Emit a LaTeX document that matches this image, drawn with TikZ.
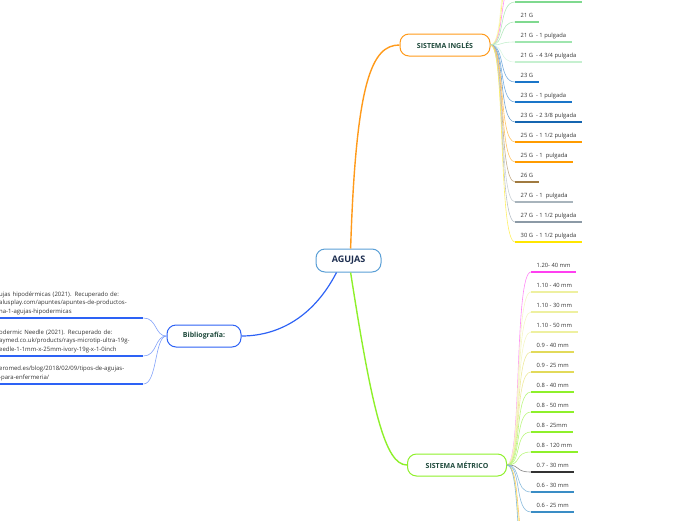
\documentclass[tikz,border=0pt]{standalone}
\usepackage{fontspec}
\setmainfont{Open Sans}
\usetikzlibrary{positioning}
\definecolor{navy}{HTML}{1C2D4F}
\definecolor{ink}{HTML}{1F4A3C}
\definecolor{txt}{HTML}{333333}
\definecolor{skyb}{HTML}{5A9FD6}
\definecolor{orng}{HTML}{FF9A1A}
\definecolor{bibb}{HTML}{2D62F5}
\definecolor{lime}{HTML}{8EF02A}
\definecolor{grnA}{HTML}{7FD98F}
\definecolor{grnB}{HTML}{9EE5AE}
\definecolor{grnC}{HTML}{C6F0D0}
\definecolor{bluA}{HTML}{1A75C8}
\definecolor{bluB}{HTML}{1565B0}
\definecolor{ornA}{HTML}{FF9C00}
\definecolor{brwn}{HTML}{A07A40}
\definecolor{gryA}{HTML}{A8B4BC}
\definecolor{gryB}{HTML}{8C9AA6}
\definecolor{yelA}{HTML}{FFE600}
\definecolor{mgnt}{HTML}{FF40F0}
\definecolor{paly}{HTML}{EEF0A0}
\definecolor{olvy}{HTML}{E2DA5A}
\definecolor{drk}{HTML}{333333}
\definecolor{bluC}{HTML}{3A8DC5}

\begin{document}
\begin{tikzpicture}[x=1pt, y=-1pt,
  topic/.style={rounded corners=9pt, draw, line width=1pt, fill=white, text=ink, font=\fontsize{7}{8}\selectfont\bfseries, minimum height=22pt, inner xsep=0pt},
  leaf/.style={anchor=south west, text=txt, font=\fontsize{5.8}{6}\selectfont, inner xsep=5.5pt, inner ysep=3pt, text height=4pt, text depth=1.2pt},
  ref/.style={anchor=south west, text=txt, font=\fontsize{6}{8.5}\selectfont, align=left, text width=144pt, inner xsep=0pt, inner ysep=3pt},
  ul/.style={line width=1.3pt, draw=#1},
  br/.style={line width=0.6pt, draw=#1!60}]

\useasboundingbox (0,0) rectangle (696,520);
\clip (0,0) rectangle (696,520);

% main topics
\node[topic, draw=skyb, text=navy, minimum width=65pt, minimum height=23pt, font=\fontsize{9}{10}\selectfont\bfseries] (agu) at (348.5,260.5) {AGUJAS};
\node[topic, draw=orng, minimum width=90pt] (ing) at (445,45) {SISTEMA INGLÉS};
\node[topic, draw=bibb, minimum width=74pt] (bib) at (204,336) {Bibliografía:};
\node[topic, draw=lime, minimum width=99pt] (met) at (457,465) {SISTEMA MÉTRICO};

\draw[line width=1.4pt, orng] (agu.80) .. controls (356,80) and (372,45) .. (ing.west);
\draw[line width=1.2pt, bibb] (agu.225) .. controls (312,320) and (275,336) .. (bib.east);
\draw[line width=1.4pt, lime] (agu.-80) .. controls (372,410) and (385,465) .. (met.west);

% sistema ingles
\coordinate (i0) at (515,2);
\coordinate (ia) at (515,-18);
\coordinate (ib) at (515,-38);
\coordinate (ic) at (515,-58);
\node[leaf] (i1) at (515,22) {21 G};
\node[leaf] (i2) at (515,42) {21 G~ - 1 pulgada};
\node[leaf] (i3) at (515,62) {21 G~ - 4 3/4 pulgada};
\node[leaf] (i4) at (515,82) {23 G};
\node[leaf] (i5) at (515,102) {23 G~ - 1 pulgada};
\node[leaf] (i6) at (515,122) {23 G~ - 2 3/8 pulgada};
\node[leaf] (i7) at (515,142) {25 G~ - 1 1/2 pulgada};
\node[leaf] (i8) at (515,162) {25 G~ - 1~ pulgada};
\node[leaf] (i9) at (515,182) {26 G};
\node[leaf] (i10) at (515,202) {27 G~ - 1~ pulgada};
\node[leaf] (i11) at (515,222) {27 G~ - 1 1/2 pulgada};
\node[leaf] (i12) at (515,242) {30 G~ - 1 1/2 pulgada};

\draw[br=mgnt] (ing.east) .. controls +(15,0) and +(-17,0) .. (ia);
\draw[br=yelA] (ing.east) .. controls +(15,0) and +(-17,0) .. (ib);
\draw[br=paly] (ing.east) .. controls +(15,0) and +(-17,0) .. (ic);
\draw[br=grnA] (ing.east) .. controls +(15,0) and +(-17,0) .. (i0);
\draw[ul=grnA] (i0) -- ++(67,0);
\draw[br=grnA] (ing.east) .. controls +(15,0) and +(-17,0) .. (i1.south west);
\draw[ul=grnA] (i1.south west) -- (i1.south east);
\draw[br=grnB] (ing.east) .. controls +(15,0) and +(-17,0) .. (i2.south west);
\draw[ul=grnB] (i2.south west) -- (i2.south east);
\draw[br=grnC] (ing.east) .. controls +(15,0) and +(-17,0) .. (i3.south west);
\draw[ul=grnC] (i3.south west) -- (i3.south east);
\draw[br=bluA] (ing.east) .. controls +(15,0) and +(-17,0) .. (i4.south west);
\draw[ul=bluA] (i4.south west) -- (i4.south east);
\draw[br=bluA] (ing.east) .. controls +(15,0) and +(-17,0) .. (i5.south west);
\draw[ul=bluA] (i5.south west) -- (i5.south east);
\draw[br=bluB] (ing.east) .. controls +(15,0) and +(-17,0) .. (i6.south west);
\draw[ul=bluB] (i6.south west) -- (i6.south east);
\draw[br=ornA] (ing.east) .. controls +(15,0) and +(-17,0) .. (i7.south west);
\draw[ul=ornA] (i7.south west) -- (i7.south east);
\draw[br=ornA] (ing.east) .. controls +(15,0) and +(-17,0) .. (i8.south west);
\draw[ul=ornA] (i8.south west) -- (i8.south east);
\draw[br=brwn] (ing.east) .. controls +(15,0) and +(-17,0) .. (i9.south west);
\draw[ul=brwn] (i9.south west) -- (i9.south east);
\draw[br=gryA] (ing.east) .. controls +(15,0) and +(-17,0) .. (i10.south west);
\draw[ul=gryA] (i10.south west) -- (i10.south east);
\draw[br=gryB] (ing.east) .. controls +(15,0) and +(-17,0) .. (i11.south west);
\draw[ul=gryB] (i11.south west) -- (i11.south east);
\draw[br=yelA] (ing.east) .. controls +(15,0) and +(-17,0) .. (i12.south west);
\draw[ul=yelA] (i12.south west) -- (i12.south east);

% sistema metrico
\node[leaf] (m1) at (531,272) {1.20- 40 mm};
\node[leaf] (m2) at (531,292) {1.10 - 40 mm};
\node[leaf] (m3) at (531,312) {1.10 - 30 mm};
\node[leaf] (m4) at (531,332) {1.10 - 50 mm};
\node[leaf] (m5) at (531,352) {0.9 - 40 mm};
\node[leaf] (m6) at (531,372) {0.9 - 25 mm};
\node[leaf] (m7) at (531,392) {0.8 - 40 mm};
\node[leaf] (m8) at (531,412) {0.8 - 50 mm};
\node[leaf] (m9) at (531,432) {0.8 - 25mm};
\node[leaf] (m10) at (531,452) {0.8 - 120 mm};
\node[leaf] (m11) at (531,472) {0.7 - 30 mm};
\node[leaf] (m12) at (531,492) {0.6 - 30 mm};
\node[leaf] (m13) at (531,512) {0.6 - 25 mm};
\coordinate (ma) at (531,552);
\coordinate (mb) at (531,572);
\coordinate (mc) at (531,592);

\draw[br=ornA] (met.east) .. controls +(15,0) and +(-17,0) .. (ma);
\draw[br=yelA] (met.east) .. controls +(15,0) and +(-17,0) .. (mb);
\draw[br=bluC] (met.east) .. controls +(15,0) and +(-17,0) .. (mc);
\draw[br=mgnt] (met.east) .. controls +(15,0) and +(-17,0) .. (m1.south west);
\draw[ul=mgnt] (m1.south west) -- (m1.south east);
\draw[br=paly] (met.east) .. controls +(15,0) and +(-17,0) .. (m2.south west);
\draw[ul=paly] (m2.south west) -- (m2.south east);
\draw[br=paly] (met.east) .. controls +(15,0) and +(-17,0) .. (m3.south west);
\draw[ul=paly] (m3.south west) -- (m3.south east);
\draw[br=paly] (met.east) .. controls +(15,0) and +(-17,0) .. (m4.south west);
\draw[ul=paly] (m4.south west) -- (m4.south east);
\draw[br=olvy] (met.east) .. controls +(15,0) and +(-17,0) .. (m5.south west);
\draw[ul=olvy] (m5.south west) -- (m5.south east);
\draw[br=olvy] (met.east) .. controls +(15,0) and +(-17,0) .. (m6.south west);
\draw[ul=olvy] (m6.south west) -- (m6.south east);
\draw[br=lime] (met.east) .. controls +(15,0) and +(-17,0) .. (m7.south west);
\draw[ul=lime] (m7.south west) -- (m7.south east);
\draw[br=lime] (met.east) .. controls +(15,0) and +(-17,0) .. (m8.south west);
\draw[ul=lime] (m8.south west) -- (m8.south east);
\draw[br=lime] (met.east) .. controls +(15,0) and +(-17,0) .. (m9.south west);
\draw[ul=lime] (m9.south west) -- (m9.south east);
\draw[br=lime] (met.east) .. controls +(15,0) and +(-17,0) .. (m10.south west);
\draw[ul=lime] (m10.south west) -- (m10.south east);
\draw[br=drk] (met.east) .. controls +(15,0) and +(-17,0) .. (m11.south west);
\draw[ul=drk] (m11.south west) -- (m11.south east);
\draw[br=bluC] (met.east) .. controls +(15,0) and +(-17,0) .. (m12.south west);
\draw[ul=bluC] (m12.south west) -- (m12.south east);
\draw[br=bluC] (met.east) .. controls +(15,0) and +(-17,0) .. (m13.south west);
\draw[ul=bluC] (m13.south west) -- (m13.south east);

% bibliografia
\node[ref] (b1) at (-1,318) {ujas hipodérmicas (2021). Recuperado de:\\alusplay.com/apuntes/apuntes-de-productos-\\na-1-agujas-hipodermicas};
\node[ref] (b2) at (-1,356) {odermic Needle (2021). Recuperado de:\\aymed.co.uk/products/rays-microtip-ultra-19g-\\eedle-1-1mm-x-25mm-ivory-19g-x-1-0inch};
\node[ref] (b3) at (-1,384) {eromed.es/blog/2018/02/09/tipos-de-agujas-\\-para-enfermeria/};

\draw[br=bibb] (b1.south east) .. controls +(14,0) and +(-12,0) .. (bib.west);
\draw[ul=bibb] (b1.south west) -- (b1.south east);
\draw[br=bibb] (b2.south east) .. controls +(14,0) and +(-12,0) .. (bib.west);
\draw[ul=bibb] (b2.south west) -- (b2.south east);
\draw[br=bibb] (b3.south east) .. controls +(14,0) and +(-12,0) .. (bib.west);
\draw[ul=bibb] (b3.south west) -- (b3.south east);
\end{tikzpicture}
\end{document}
